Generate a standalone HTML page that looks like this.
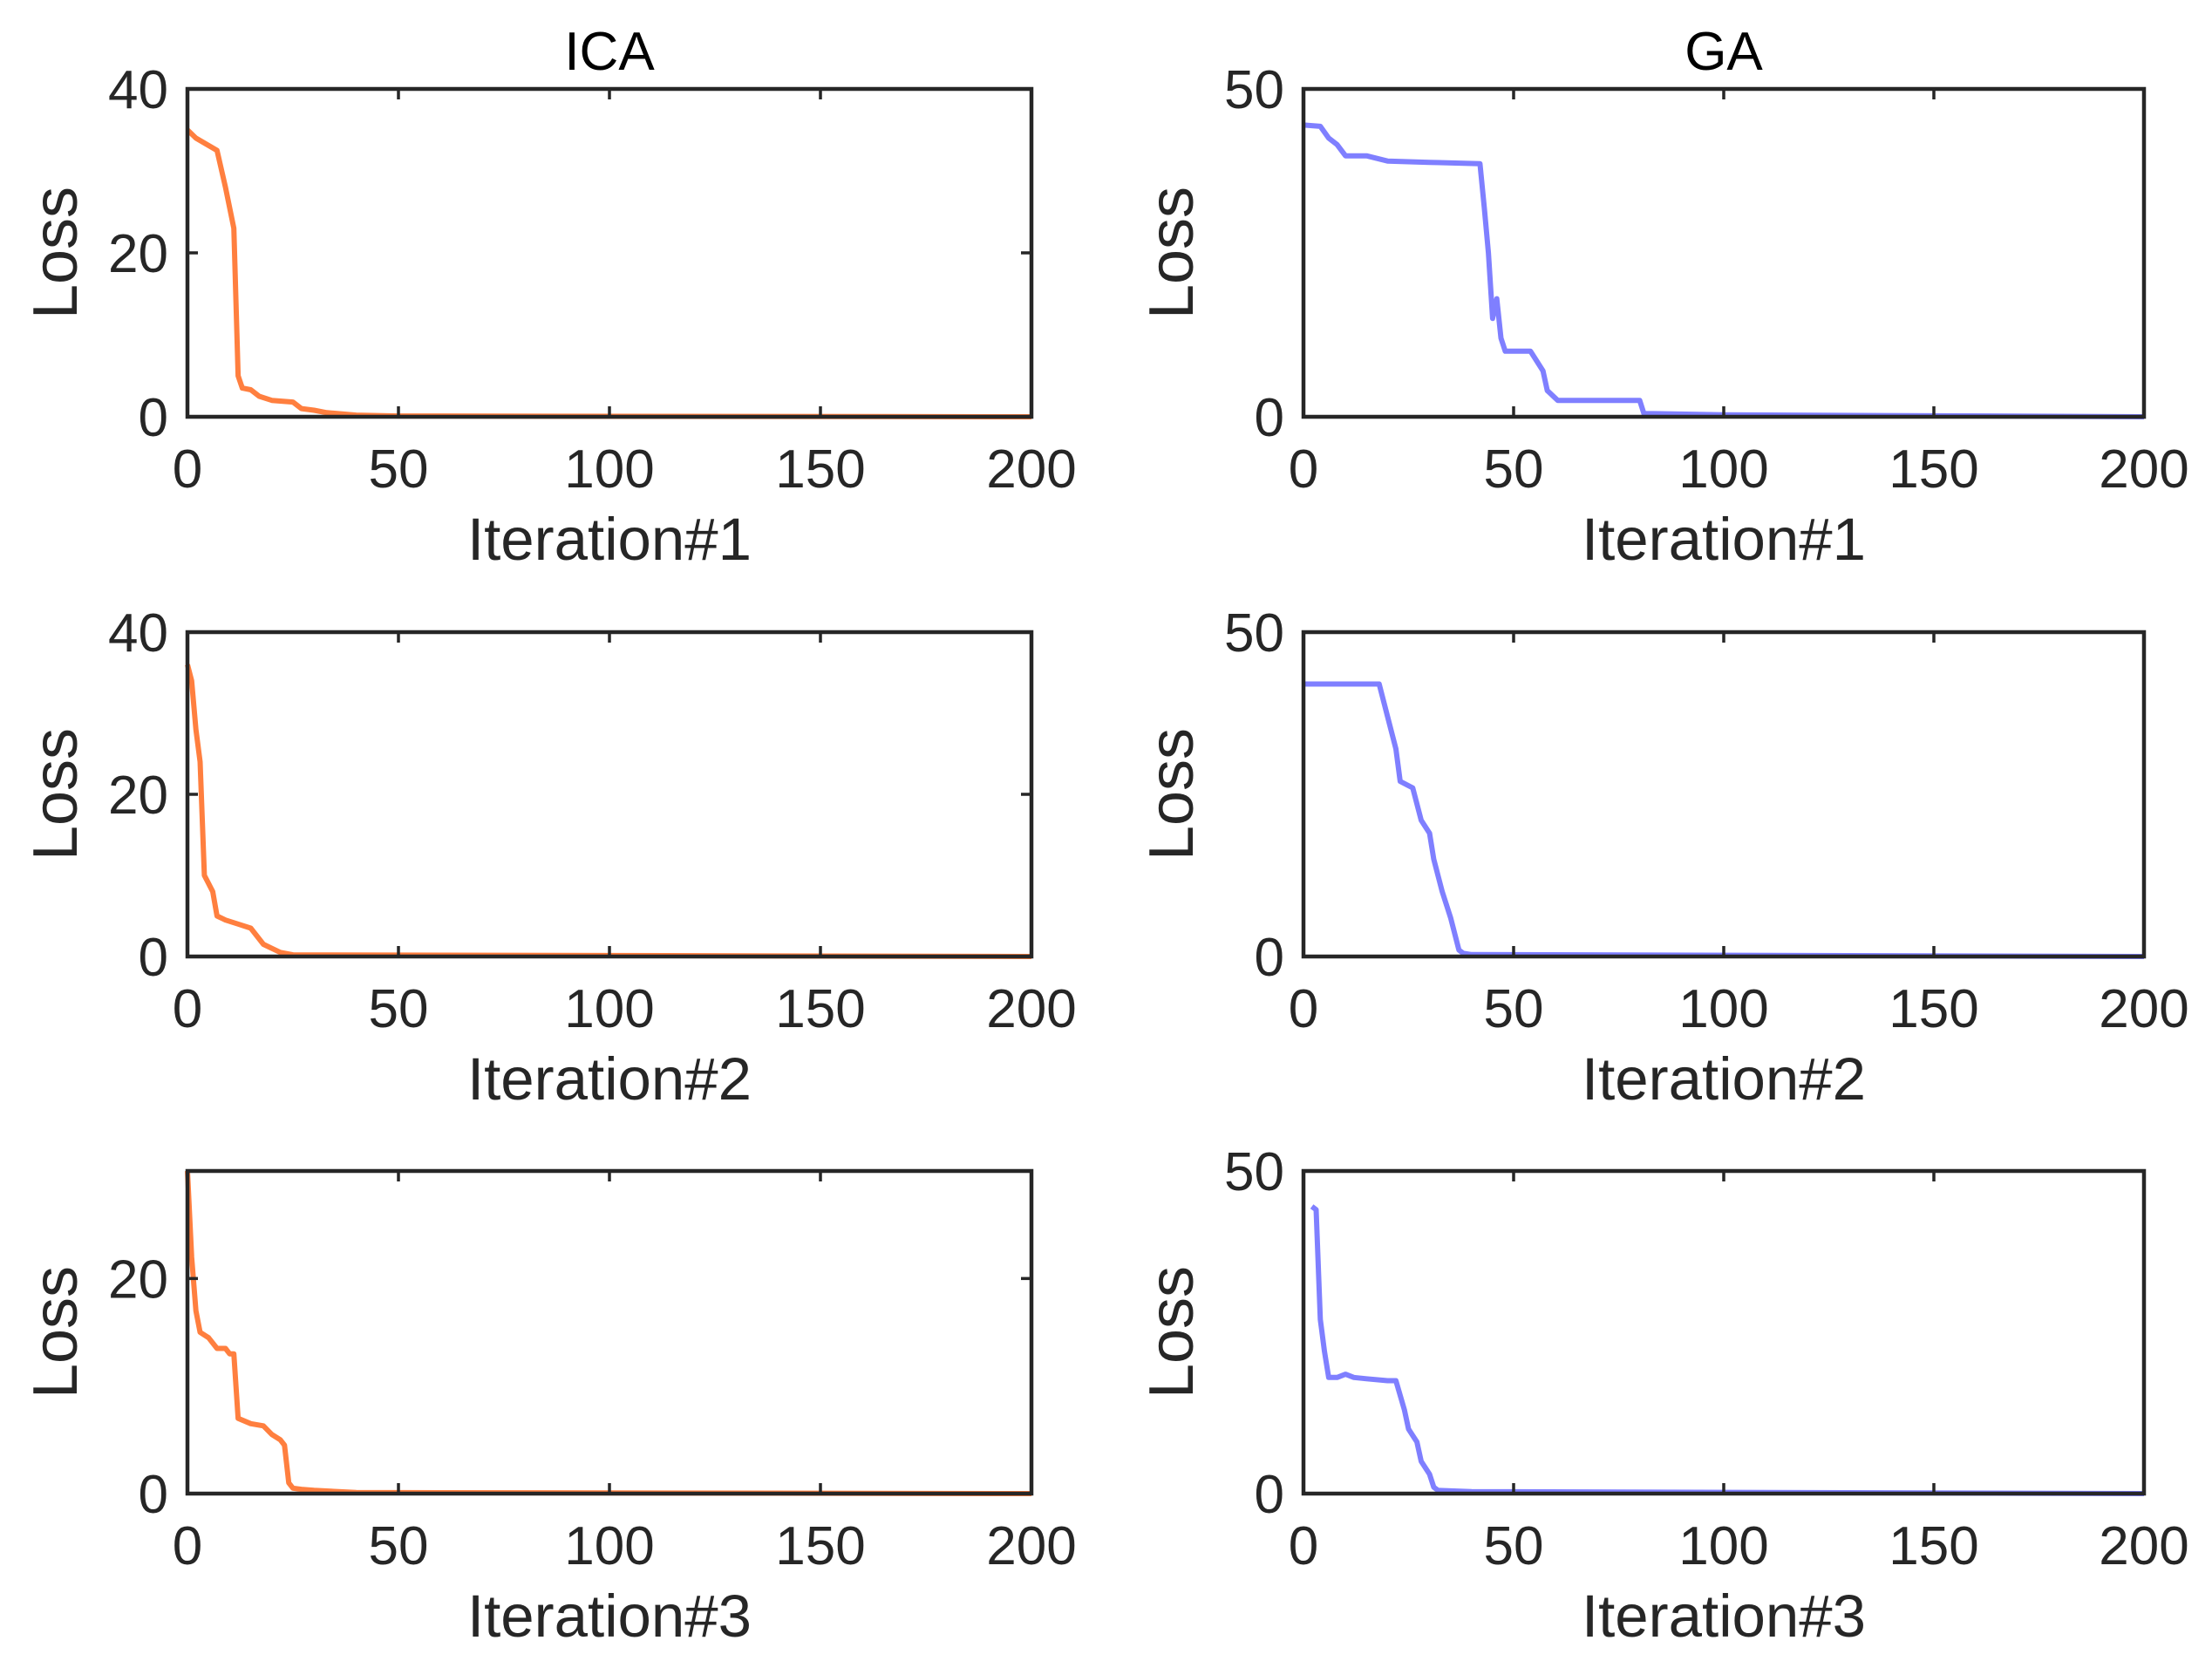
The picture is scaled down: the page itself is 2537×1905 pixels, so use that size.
<!DOCTYPE html>
<html><head><meta charset="utf-8"><style>
html,body{margin:0;padding:0;background:#fff;}
svg{display:block;font-family:"Liberation Sans",Arial,sans-serif;}
</style></head><body>
<svg id="fig" width="2537" height="1905" viewBox="0 0 2537 1905"></svg>
<script>
const xTicks=[0,50,100,150,200];
const ica1X=[0,2,7,9,11,12,13,15,17,20,25,27,30,33,40,50,200];
const ica1Y=[35,34,32.5,28,23,5,3.5,3.3,2.5,2,1.8,1.0,0.8,0.5,0.2,0.1,0];
const ga1X=[0,4,6,8,10,15,20,30,42,43,44,45,46,47,48,54,55,57,58,60.5,80,81,100,200];
const ga1Y=[44.5,44.3,42.5,41.5,39.8,39.8,39,38.8,38.6,32,25,15,18,12,10,10,9,7,4,2.5,2.5,0.5,0.3,0];
const ica2X=[0,1,2,3,4,5,6,7,9,12,15,18,20,22,25,200];
const ica2Y=[36,34,28,24,10,9,8,5,4.5,4,3.5,1.5,1,0.5,0.2,0];
const ga2X=[0,18,20,22,23,26,28,30,31,33,35,37,38,40,200];
const ga2Y=[42,42,37,32,27,26,21,19,15,10,6,1,0.5,0.3,0];
const ica3X=[0,1,2,3,5,7,9,10,11,12,15,18,20,22,23,24,25,27,30,40,200];
const ica3Y=[30,22,17,15,14.5,13.5,13.5,13,13,7,6.5,6.3,5.5,5,4.5,1,0.5,0.4,0.3,0.1,0];
const ga3X=[2,3,4,5,6,8,10,12,15,20,22,24,25,27,28,30,31,32,40,200];
const ga3Y=[44.5,44,27,22,18,18,18.5,18,17.8,17.5,17.5,13,10,8,5,3,1,0.5,0.3,0];
const ica1Ticks=[0,20,40], ga1Ticks=[0,50], ica2Ticks=[0,20,40], ga2Ticks=[0,50], ica3Ticks=[0,20], ga3Ticks=[0,50];
const panels=[
 {name:'ica-iter1',col:0,row:0,xs:ica1X,ys:ica1Y,ymax:40,yt:ica1Ticks,label:'Iteration#1',title:'ICA',c:'#ff7f3f'},
 {name:'ga-iter1',col:1,row:0,xs:ga1X,ys:ga1Y,ymax:50,yt:ga1Ticks,label:'Iteration#1',title:'GA',c:'#7f7fff'},
 {name:'ica-iter2',col:0,row:1,xs:ica2X,ys:ica2Y,ymax:40,yt:ica2Ticks,label:'Iteration#2',c:'#ff7f3f'},
 {name:'ga-iter2',col:1,row:1,xs:ga2X,ys:ga2Y,ymax:50,yt:ga2Ticks,label:'Iteration#2',c:'#7f7fff'},
 {name:'ica-iter3',col:0,row:2,xs:ica3X,ys:ica3Y,ymax:30,yt:ica3Ticks,label:'Iteration#3',c:'#ff7f3f'},
 {name:'ga-iter3',col:1,row:2,xs:ga3X,ys:ga3Y,ymax:50,yt:ga3Ticks,label:'Iteration#3',c:'#7f7fff'}
];
const colX=[[215,1183],[1495,2459]];
const rowY=[[102,478],[725,1097],[1343,1713]];
const NS='http://www.w3.org/2000/svg';
const svg=document.getElementById('fig');
function mk(tag,attrs,parent){const e=document.createElementNS(NS,tag);for(const k in attrs)e.setAttribute(k,attrs[k]);(parent||svg).appendChild(e);return e;}
panels.forEach(p=>{
 const [x0,x1]=colX[p.col],[y0,y1]=rowY[p.row];
 const sx=v=>x0+(v/200)*(x1-x0);
 const sy=v=>y1-(v/p.ymax)*(y1-y0);
 const g=mk('g',{});
 
 
 const pts=p.xs.map((x,i)=>sx(x).toFixed(1)+','+sy(p.ys[i]).toFixed(1)).join(' ');
 const line=mk('polyline',{points:pts,fill:'none',stroke:p.c,'stroke-width':6,'stroke-linejoin':'round'},g);
 
 
 const box=mk('rect',{x:x0,y:y0,width:x1-x0,height:y1-y0,fill:'none',stroke:'#262626','stroke-width':4.5},g);
 
 
 xTicks.forEach(t=>{
  const x=sx(t);
  mk('line',{x1:x,x2:x,y1:y1,y2:y1-12,stroke:'#262626','stroke-width':3.5},g);
  mk('line',{x1:x,x2:x,y1:y0,y2:y0+12,stroke:'#262626','stroke-width':3.5},g);
  const tl=mk('text',{x:x,y:y1+81,'text-anchor':'middle','font-size':62,fill:'#262626'},g);
  tl.textContent=t;
  
  
 });
 p.yt.forEach(t=>{
  const y=sy(t);
  mk('line',{x1:x0,x2:x0+12,y1:y,y2:y,stroke:'#262626','stroke-width':3.5},g);
  mk('line',{x1:x1,x2:x1-12,y1:y,y2:y,stroke:'#262626','stroke-width':3.5},g);
  const tl=mk('text',{x:x0-22,y:y+22,'text-anchor':'end','font-size':62,fill:'#262626'},g);
  tl.textContent=t;
  
  
 });
 const xl=mk('text',{x:(x0+x1)/2,y:y1+164,'text-anchor':'middle','font-size':69,fill:'#262626'},g);
 xl.textContent=p.label;
 
 
 const cy=(y0+y1)/2, lx=x0-127;
 const yl=mk('text',{x:lx,y:cy,'text-anchor':'middle','font-size':72,fill:'#262626',transform:'rotate(-90 '+lx+' '+cy+')'},g);
 yl.textContent='Loss';
 
 
 if(p.title){
  const tt=mk('text',{x:(x0+x1)/2,y:y0-22,'text-anchor':'middle','font-size':62,fill:'#000'},g);
  tt.textContent=p.title;
  
  
 }
});
</script>
</body></html>
